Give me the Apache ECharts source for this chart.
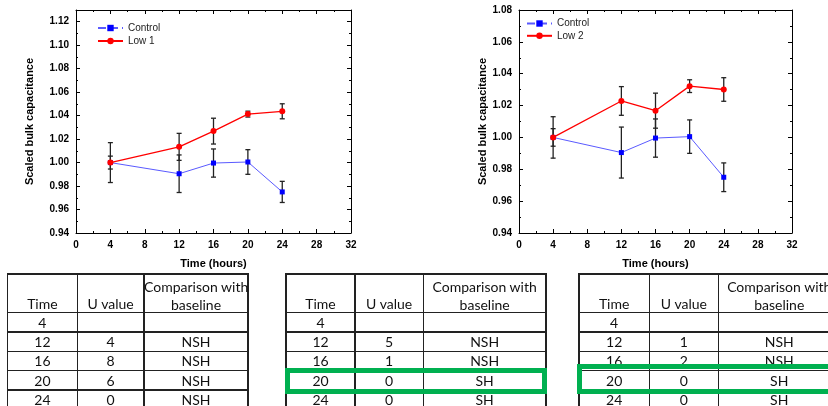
<!DOCTYPE html>
<html>
<head>
<meta charset="utf-8">
<script src="https://cdn.jsdelivr.net/npm/echarts@6/dist/echarts.min.js"></script>
<style>
html, body { margin: 0; padding: 0; background: #fff; width: 828px; height: 406px; overflow: hidden; }
#main { position: absolute; left: 0; top: 0; width: 828px; height: 406px; }
.ln { position: absolute; background: #222; }
.tx { position: absolute; text-align: center; font-family: Lato, "Liberation Sans", sans-serif; font-size: 14px; color: #111; white-space: nowrap; }
.box { position: absolute; border: 5px solid #00b050; box-sizing: border-box; }
</style>
</head>
<body>
<div id="main"></div>
<div id="tables"></div>
<script>
// time points (hours)
var times = [4, 12, 16, 20, 24];
// scaled bulk capacitance, mean and error
var control = [1.000, 0.9905, 0.9996, 1.0005, 0.975];
var controlErr = [0.0055, 0.016, 0.012, 0.0105, 0.009];
var low1 = [1.000, 1.0134, 1.0268, 1.0413, 1.0437];
var low1Err = [0.017, 0.0115, 0.011, 0.0025, 0.0064];
var low2 = [1.000, 1.0229, 1.0168, 1.0322, 1.0301];
var low2Err = [0.013, 0.009, 0.011, 0.004, 0.0074];

// tables
var tableTimes = ["4", "12", "16", "20", "24"];
var uLow1 = ["", "4", "8", "6", "0"];
var cmpLow1 = ["", "NSH", "NSH", "NSH", "NSH"];
var uLow2 = ["", "5", "1", "0", "0"];
var cmpLow2 = ["", "NSH", "NSH", "SH", "SH"];
var uLow3 = ["", "1", "2", "0", "0"];
var cmpLow3 = ["", "NSH", "NSH", "SH", "SH"];

var font = "Liberation Sans";

function renderErr(params, api) {
  var x = api.value(0), y = api.value(1), e = api.value(2);
  var hi = api.coord([x, y + e]), lo = api.coord([x, y - e]);
  var w = 2.5;
  var st = { stroke: "#222", lineWidth: 1.3 };
  return {
    type: "group",
    children: [
      { type: "line", shape: { x1: hi[0], y1: hi[1], x2: lo[0], y2: lo[1] }, style: st },
      { type: "line", shape: { x1: hi[0] - w, y1: hi[1], x2: hi[0] + w, y2: hi[1] }, style: st },
      { type: "line", shape: { x1: lo[0] - w, y1: lo[1], x2: lo[0] + w, y2: lo[1] }, style: st }
    ]
  };
}

function pts(vals, errs) {
  return times.map(function (t, i) { return [t, vals[i], errs[i]]; });
}

var grids = [], xAxes = [], yAxes = [], series = [];

function addPanel(g, box, yMax, nameGap, lowName, lowVals, lowErrs) {
  grids.push(box);
  var ax = {
    gridIndex: g,
    type: "value",
    min: 0,
    max: 32,
    interval: 4,
    axisLine: { onZero: false, lineStyle: { color: "#000", width: 1 } },
    axisTick: { inside: true, length: 4, lineStyle: { color: "#000" } },
    minorTick: { show: true, splitNumber: 2, length: 2, lineStyle: { color: "#000" } },
    splitLine: { show: false }
  };
  xAxes.push(Object.assign({}, ax, {
    position: "bottom",
    axisLabel: { fontFamily: font, fontWeight: "bold", fontSize: 10, color: "#000", margin: 7 },
    name: "Time (hours)",
    nameLocation: "middle",
    nameGap: 25,
    nameTextStyle: { fontFamily: font, fontWeight: "bold", fontSize: 11, color: "#000" }
  }));
  xAxes.push(Object.assign({}, ax, { position: "top", axisLabel: { show: false } }));
  var ay = Object.assign({}, ax, { min: 0.94, max: yMax, interval: 0.02 });
  yAxes.push(Object.assign({}, ay, {
    position: "left",
    axisLabel: {
      fontFamily: font, fontWeight: "bold", fontSize: 10, color: "#000", margin: 7,
      formatter: function (v) { return v > yMax - 0.005 && yMax === 1.13 ? "" : v.toFixed(2); }
    },
    name: "Scaled bulk capacitance",
    nameLocation: "middle",
    nameGap: nameGap,
    nameTextStyle: { fontFamily: font, fontWeight: "bold", fontSize: 11, color: "#000" }
  }));
  yAxes.push(Object.assign({}, ay, { position: "right", axisLabel: { show: false } }));
  var xi = g * 2, yi = g * 2;
  series.push(
    { type: "custom", xAxisIndex: xi, yAxisIndex: yi, renderItem: renderErr, encode: { x: 0, y: 1 }, data: pts(control, controlErr), z: 1 },
    { type: "custom", xAxisIndex: xi, yAxisIndex: yi, renderItem: renderErr, encode: { x: 0, y: 1 }, data: pts(lowVals, lowErrs), z: 1 },
    {
      name: "Control", type: "line", xAxisIndex: xi, yAxisIndex: yi,
      data: times.map(function (t, i) { return [t, control[i]]; }),
      symbol: "rect", symbolSize: 5, itemStyle: { color: "#0000ff" },
      lineStyle: { color: "#5a5aff", width: 1 }, z: 3
    },
    {
      name: lowName, type: "line", xAxisIndex: xi, yAxisIndex: yi,
      data: times.map(function (t, i) { return [t, lowVals[i]]; }),
      symbol: "circle", symbolSize: 6, itemStyle: { color: "#ff0000" },
      lineStyle: { color: "#ff0000", width: 1.3 }, z: 3
    }
  );
}

addPanel(0, { left: 76, top: 10, width: 275, height: 223 }, 1.13, 41, "Low 1", low1, low1Err);
addPanel(1, { left: 519, top: 10, width: 273, height: 223 }, 1.08, 31, "Low 2", low2, low2Err);

function legendFor(lowName, left, top, gap) {
  return {
    data: [{ name: "Control", lineStyle: { type: "dashed" } }, lowName],
    left: left, top: top, orient: "vertical",
    itemWidth: 25, itemHeight: 8, itemGap: gap, selectedMode: false,
    textStyle: { fontFamily: font, fontSize: 10, color: "#222", lineHeight: 8 }
  };
}

var myChart = echarts.init(document.getElementById("main"));
myChart.setOption({
  animation: false,
  backgroundColor: "#fff",
  grid: grids,
  xAxis: xAxes,
  yAxis: yAxes,
  legend: [legendFor("Low 1", 92, 18, 3), legendFor("Low 2", 521, 13.5, 2.3)],
  series: series
});

// tables below the charts
var rowEdges = [274, 312.7, 332, 351.3, 370.6, 389.9, 409.2];
var holder = document.getElementById("tables");

function addDiv(cls, css, text) {
  var d = document.createElement("div");
  d.className = cls;
  Object.assign(d.style, css);
  if (text !== undefined) d.textContent = text;
  holder.appendChild(d);
}

function drawTable(cols, uVals, cmpVals) {
  var lw = 1.6;
  rowEdges.forEach(function (y) {
    addDiv("ln", { left: cols[0] - lw / 2 + "px", top: y - lw / 2 + "px", width: cols[3] - cols[0] + lw + "px", height: lw + "px" });
  });
  cols.forEach(function (x) {
    addDiv("ln", { left: x - lw / 2 + "px", top: rowEdges[0] - lw / 2 + "px", width: lw + "px", height: rowEdges[6] - rowEdges[0] + "px" });
  });
  function cell(c, cy, text) {
    addDiv("tx", { left: cols[c] + "px", width: cols[c + 1] - cols[c] + "px", top: cy - 9 + "px", height: "18px", lineHeight: "18px" }, text);
  }
  cell(0, 304.3, "Time");
  cell(1, 304.3, "U value");
  cell(2, 286.7, "Comparison with");
  cell(2, 305, "baseline");
  for (var r = 0; r < tableTimes.length; r++) {
    var cy = (rowEdges[r + 1] + rowEdges[r + 2]) / 2 + 0.5;
    cell(0, cy, tableTimes[r]);
    cell(1, cy, uVals[r]);
    cell(2, cy, cmpVals[r]);
  }
}

drawTable([7.5, 77.3, 144, 248], uLow1, cmpLow1);
drawTable([286, 355, 423.3, 546], uLow2, cmpLow2);
drawTable([579, 649.3, 718.5, 840], uLow3, cmpLow3);

addDiv("box", { left: "285px", top: "367.7px", width: "262px", height: "26.7px" });
addDiv("box", { left: "576.7px", top: "364px", width: "300px", height: "30.3px" });
</script>
</body>
</html>
